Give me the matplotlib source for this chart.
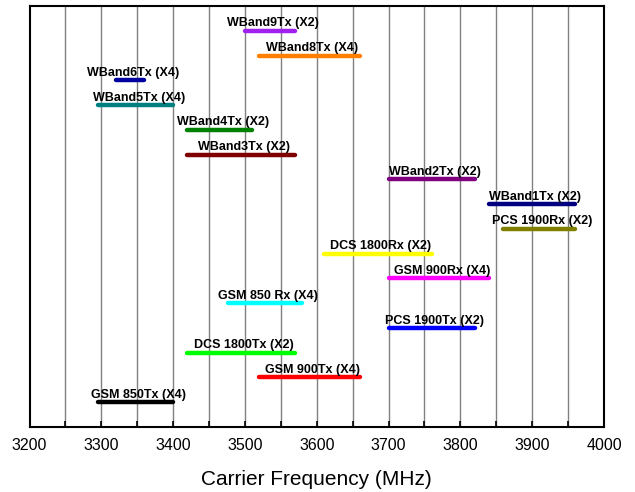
import matplotlib
matplotlib.use("Agg")
import matplotlib.pyplot as plt
import numpy as np

plt.rcParams['font.family'] = ['Liberation Sans', 'DejaVu Sans']

# bands from top to bottom
labels = ["WBand9Tx (X2)", "WBand8Tx (X4)", "WBand6Tx (X4)", "WBand5Tx (X4)",
          "WBand4Tx (X2)", "WBand3Tx (X2)", "WBand2Tx (X2)", "WBand1Tx (X2)",
          "PCS 1900Rx (X2)", "DCS 1800Rx (X2)", "GSM 900Rx (X4)", "GSM 850 Rx (X4)",
          "PCS 1900Tx (X2)", "DCS 1800Tx (X2)", "GSM 900Tx (X4)", "GSM 850Tx (X4)"]
f_start = [3500, 3520, 3320, 3296, 3420, 3420, 3700, 3840,
           3860, 3610, 3700, 3476, 3700, 3420, 3520, 3296]
f_stop = [3570, 3660, 3360, 3400, 3510, 3570, 3820, 3960,
          3960, 3760, 3840, 3580, 3820, 3570, 3660, 3400]
colors = ["#a020f0", "#ff8000", "#0000a0", "#008080", "#008000", "#800000",
          "#800080", "#000080", "#808000", "#ffff00", "#ff00ff", "#00ffff",
          "#0000ff", "#00ff00", "#ff0000", "#000000"]

fig = plt.figure(figsize=(6.35, 4.92), dpi=100)
ax = fig.add_axes([29.5/635, 1 - 427/492, (604 - 29.5)/635, (427 - 6)/492])

for x in np.arange(3250, 4000, 50):
    ax.axvline(x, color="#808080", lw=1.0, zorder=1)

n = len(labels)
for i in range(n):
    y = n - i
    ax.plot([f_start[i], f_stop[i]], [y, y], color=colors[i], lw=3.2,
            solid_capstyle="round", zorder=3)
    ax.text((f_start[i] + f_stop[i]) / 2 + 4, y + 0.3, labels[i],
            ha="center", va="center", fontsize=9, fontweight="bold", zorder=4)

ax.set_xlim(3200, 4000)
ax.set_ylim(0, n + 1)
ax.set_xticks(np.arange(3200, 4001, 100))
ax.set_xticks(np.arange(3250, 4000, 100), minor=True)
ax.tick_params(axis="x", which="both", direction="in", length=4, width=1.2,
               labelsize=11.5, pad=8)
ax.set_yticks([])
for s in ax.spines.values():
    s.set_linewidth(1.5)
ax.set_xlabel("Carrier Frequency (MHz)", fontsize=15, labelpad=12)

fig.savefig("out.png", dpi=100)
